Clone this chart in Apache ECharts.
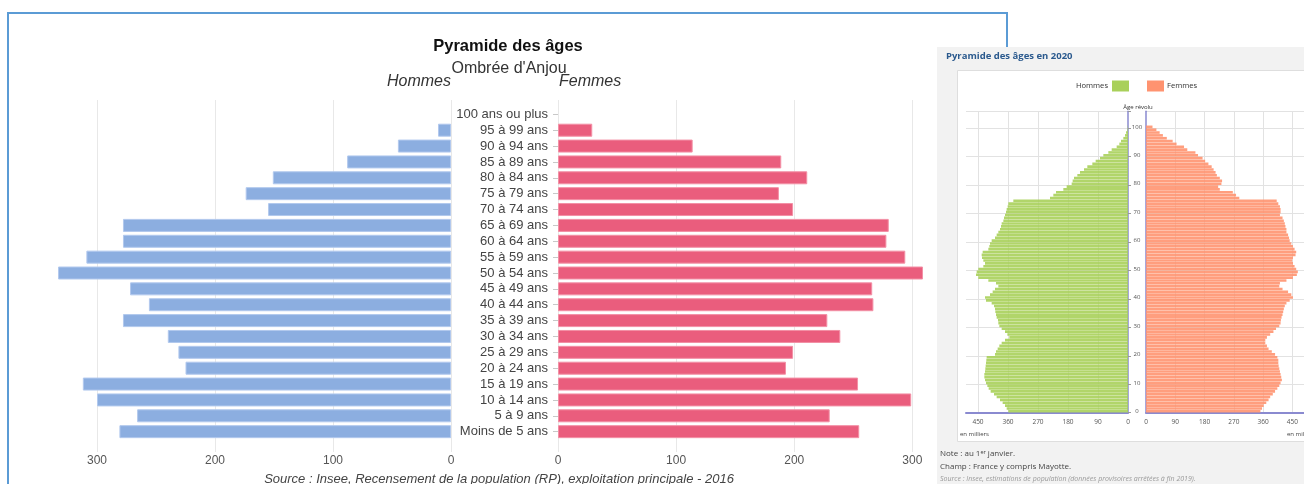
<!DOCTYPE html>
<html>
<head>
<meta charset="utf-8">
<title>Pyramide des âges</title>
<script src="https://cdn.jsdelivr.net/npm/echarts@6/dist/echarts.min.js"></script>
<style>
  html, body { margin: 0; padding: 0; background: #fff; }
  #chart { width: 1304px; height: 484px; }
</style>
</head>
<body>
<div id="chart"></div>
<script>
// Ombrée d'Anjou, RP 2016 : tranches de 5 ans, du bas vers le haut
const tranches = [
  "Moins de 5 ans", "5 à 9 ans", "10 à 14 ans", "15 à 19 ans", "20 à 24 ans",
  "25 à 29 ans", "30 à 34 ans", "35 à 39 ans", "40 à 44 ans", "45 à 49 ans",
  "50 à 54 ans", "55 à 59 ans", "60 à 64 ans", "65 à 69 ans", "70 à 74 ans",
  "75 à 79 ans", "80 à 84 ans", "85 à 89 ans", "90 à 94 ans", "95 à 99 ans",
  "100 ans ou plus"
];
const hommes = [281, 266, 300, 312, 225, 231, 240, 278, 256, 272, 333, 309, 278, 278, 155, 174, 151, 88, 45, 11, 0];
const femmes = [255, 230, 299, 254, 193, 199, 239, 228, 267, 266, 309, 294, 278, 280, 199, 187, 211, 189, 114, 29, 0];

// France 2020, en milliers, par âge révolu 0 à 100
const hommes2020 = [
  359, 364, 369, 376, 384, 394, 402, 412, 418, 422,
  426, 429, 431, 431, 429, 428, 427, 426, 425, 424,
  399, 396, 391, 386, 379, 369, 356, 362, 369, 379,
  386, 389, 390, 394, 396, 398, 399, 402, 409, 426,
  429, 414, 406, 399, 389, 396, 419, 449, 456, 454,
  449, 434, 429, 434, 438, 439, 436, 419, 416, 414,
  409, 399, 394, 389, 384, 381, 379, 374, 372, 369,
  366, 364, 361, 359, 344, 234, 224, 216, 194, 184,
  169, 166, 162, 152, 144, 132, 122, 107, 97, 84,
  74, 59, 49, 34, 26, 21, 14, 9, 6, 2,
  1
];
const femmes2020 = [
  352, 357, 362, 370, 377, 382, 390, 397, 404, 410,
  414, 418, 416, 414, 412, 410, 408, 407, 407, 404,
  397, 387, 377, 372, 367, 367, 372, 382, 392, 400,
  410, 414, 415, 417, 420, 422, 424, 427, 432, 442,
  452, 447, 437, 420, 410, 412, 432, 452, 464, 467,
  462, 457, 452, 450, 452, 460, 462, 457, 452, 447,
  442, 440, 437, 432, 432, 429, 427, 424, 420, 412,
  414, 414, 412, 407, 402, 287, 277, 267, 227, 222,
  232, 234, 227, 218, 214, 208, 202, 192, 182, 174,
  160, 152, 127, 117, 94, 82, 64, 52, 42, 32,
  20
];
// axe des âges : 0 à 105 (espace au-dessus de 100)
const ages = Array.from({ length: 106 }, (_, i) => String(i));

const mainFont = "Liberation Sans, Arial, sans-serif";
const insFont = "Open Sans, sans-serif";
const purple = "#8a8ad0";
const miniGrid = "#e2e2e2";

// pas de contour pour une barre vide
function noEmptyBorder(arr) {
  return arr.map(v => (v === 0 ? { value: v, itemStyle: { borderWidth: 0 } } : v));
}

const chart = echarts.init(document.getElementById("chart"));

function gridAxis(idx, max, inverse) {
  return {
    gridIndex: idx, type: "value", min: 0, max: max, interval: 100, inverse: inverse,
    axisLine: { show: false }, axisTick: { show: false },
    axisLabel: { fontSize: 12, color: "#555", margin: 3, fontFamily: mainFont, showMaxLabel: false },
    splitLine: { show: true, showMaxLine: false, lineStyle: { color: "#e8e8e8", width: 1 } }
  };
}

function miniX(idx, inverse) {
  return {
    gridIndex: idx, type: "value", min: 0, max: 486, interval: 90, inverse: inverse,
    axisLine: { show: true, onZero: false, lineStyle: { color: purple, width: 2 } },
    axisTick: { show: false },
    axisLabel: { fontSize: 6.5, color: "#555", margin: 6, fontFamily: insFont, showMaxLabel: false },
    splitLine: { show: true, showMaxLine: false, showMinLine: false, lineStyle: { color: miniGrid } }
  };
}

chart.setOption({
  animation: false,
  grid: [
    { left: 38, width: 413, top: 106.4, height: 333.2 },
    { left: 558, width: 378, top: 106.4, height: 333.2 },
    { left: 38, width: 413, top: 100, height: 352 },
    { left: 558, width: 378, top: 100, height: 352 },
    { left: 966, width: 162, top: 111.2, height: 301.5 },
    { left: 1146, width: 162, top: 111.2, height: 301.5 }
  ],
  xAxis: [
    { gridIndex: 0, type: "value", min: 0, max: 350, inverse: true, show: false },
    { gridIndex: 1, type: "value", min: 0, max: 320, show: false },
    gridAxis(2, 350, true),
    gridAxis(3, 320, false),
    miniX(4, true),
    miniX(5, false)
  ],
  yAxis: [
    { gridIndex: 0, type: "category", data: tranches, show: false },
    {
      gridIndex: 1, type: "category", data: tranches, position: "left",
      axisLine: { show: false },
      axisTick: { show: true, alignWithLabel: true, length: 5, lineStyle: { color: "#c8c8c8" } },
      axisLabel: { interval: 0, margin: 10, fontSize: 13, color: "#444", fontFamily: mainFont }
    },
    { gridIndex: 2, type: "value", show: false },
    { gridIndex: 3, type: "value", show: false },
    {
      gridIndex: 4, type: "category", data: ages, position: "right",
      axisLine: { show: true, lineStyle: { color: purple, width: 1.5 } },
      axisTick: { show: true, interval: 9, length: 3, lineStyle: { color: "#999" } },
      axisLabel: { show: false },
      splitLine: { show: true, interval: 9, lineStyle: { color: miniGrid } }
    },
    {
      gridIndex: 5, type: "category", data: ages, position: "left",
      axisLine: { show: true, lineStyle: { color: purple, width: 1.5 } },
      axisTick: { show: false },
      axisLabel: { interval: 9, fontSize: 6, color: "#555", align: "center", margin: 9, fontFamily: insFont },
      splitLine: { show: true, interval: 9, lineStyle: { color: miniGrid } }
    }
  ],
  series: [
    {
      name: "Hommes", type: "bar", xAxisIndex: 0, yAxisIndex: 0, data: noEmptyBorder(hommes), barWidth: 13,
      itemStyle: { color: "#8caee0", borderColor: "#b2c9ee", borderWidth: 1 }
    },
    {
      name: "Femmes", type: "bar", xAxisIndex: 1, yAxisIndex: 1, data: noEmptyBorder(femmes), barWidth: 13,
      itemStyle: { color: "#ea5d7d", borderColor: "#f390a6", borderWidth: 1 }
    },
    {
      name: "Hommes 2020", type: "bar", xAxisIndex: 4, yAxisIndex: 4, data: hommes2020,
      barCategoryGap: "8%", itemStyle: { color: "#a9d05a", opacity: 0.9 }
    },
    {
      name: "Femmes 2020", type: "bar", xAxisIndex: 5, yAxisIndex: 5, data: femmes2020,
      barCategoryGap: "8%", itemStyle: { color: "#ff9370", opacity: 0.9 }
    }
  ],
  graphic: [
    { type: "polyline", z: -12, shape: { points: [[8, 490], [8, 13], [1007, 13], [1007, 60]] },
      style: { stroke: "#5b9bd5", lineWidth: 2, fill: null } },
    { type: "rect", z: -11, shape: { x: 937, y: 47, width: 400, height: 450 }, style: { fill: "#f2f2f2" } },
    { type: "rect", z: -10, shape: { x: 957.5, y: 70.5, width: 400, height: 371 },
      style: { fill: "#fff", stroke: "#dedede", lineWidth: 1 } },

    { type: "text", x: 508, y: 46, style: { text: "Pyramide des âges", font: "bold 16.5px " + mainFont, fill: "#111", textAlign: "center", textVerticalAlign: "middle" } },
    { type: "text", x: 509, y: 69, style: { text: "Ombrée d'Anjou", font: "16px " + mainFont, fill: "#333", textAlign: "center", textVerticalAlign: "middle" } },
    { type: "text", x: 451, y: 82, style: { text: "Hommes", font: "italic 16px " + mainFont, fill: "#333", textAlign: "right", textVerticalAlign: "middle" } },
    { type: "text", x: 559, y: 82, style: { text: "Femmes", font: "italic 16px " + mainFont, fill: "#333", textAlign: "left", textVerticalAlign: "middle" } },
    { type: "text", x: 499, y: 479, style: { text: "Source : Insee, Recensement de la population (RP), exploitation principale - 2016", font: "italic 13px " + mainFont, fill: "#444", textAlign: "center", textVerticalAlign: "middle" } },

    { type: "text", x: 946, y: 56, style: { text: "Pyramide des âges en 2020", font: "bold 9.5px " + insFont, fill: "#2b5a8e", textAlign: "left", textVerticalAlign: "middle" } },
    { type: "text", x: 1108, y: 86, style: { text: "Hommes", font: "7.6px " + insFont, fill: "#333", textAlign: "right", textVerticalAlign: "middle" } },
    { type: "rect", shape: { x: 1112, y: 80.5, width: 17, height: 11 }, style: { fill: "#a9d05a" } },
    { type: "rect", shape: { x: 1147, y: 80.5, width: 17, height: 11 }, style: { fill: "#ff9370" } },
    { type: "text", x: 1167, y: 86, style: { text: "Femmes", font: "7.6px " + insFont, fill: "#333", textAlign: "left", textVerticalAlign: "middle" } },
    { type: "text", x: 1138, y: 107, style: { text: "Âge révolu", font: "6px " + insFont, fill: "#333", textAlign: "center", textVerticalAlign: "middle" } },
    { type: "text", x: 960, y: 434, style: { text: "en milliers", font: "6px " + insFont, fill: "#444", textAlign: "left", textVerticalAlign: "middle" } },
    { type: "text", x: 1287, y: 434, style: { text: "en milliers", font: "6px " + insFont, fill: "#444", textAlign: "left", textVerticalAlign: "middle" } },
    { type: "text", x: 940, y: 454, style: { text: "Note : au 1{sup|er} janvier.", font: "8px " + insFont, fill: "#444", textAlign: "left", textVerticalAlign: "middle",
      rich: { sup: { fontSize: 5.5, fontFamily: insFont, fill: "#444", verticalAlign: "top", padding: [0, 0, 4, 0] } } } },
    { type: "text", x: 940, y: 467, style: { text: "Champ : France y compris Mayotte.", font: "8px " + insFont, fill: "#444", textAlign: "left", textVerticalAlign: "middle" } },
    { type: "text", x: 940, y: 479, style: { text: "Source : Insee, estimations de population (données provisoires arrêtées à fin 2019).", font: "italic 7px " + insFont, fill: "#999", textAlign: "left", textVerticalAlign: "middle" } }
  ]
});
</script>
</body>
</html>
